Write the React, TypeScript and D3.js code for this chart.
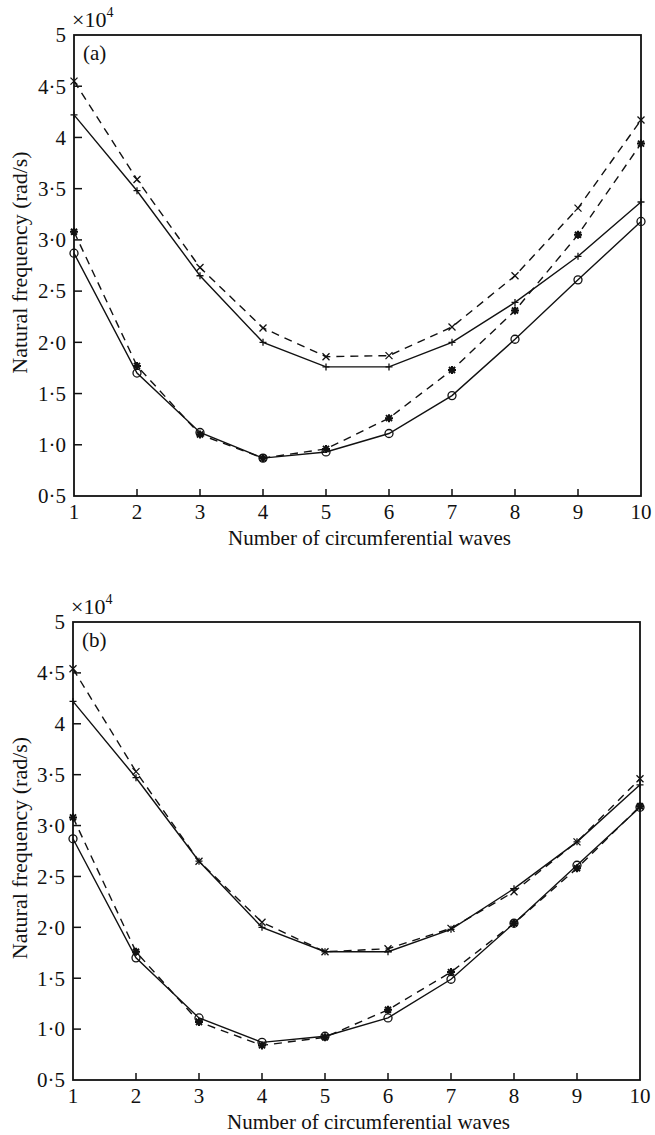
import React from 'react';
import * as d3 from 'd3';

// circumferential wave numbers (x axis)
const waves = [1, 2, 3, 4, 5, 6, 7, 8, 9, 10];

// natural frequency, in units of 10^4 rad/s
// panel (a)
const aUpperSolid = [4.22, 3.48, 2.65, 2.0, 1.76, 1.76, 2.0, 2.39, 2.84, 3.37];
const aUpperDashed = [4.55, 3.59, 2.73, 2.14, 1.86, 1.87, 2.15, 2.65, 3.31, 4.17];
const aLowerSolid = [2.87, 1.7, 1.12, 0.87, 0.93, 1.11, 1.48, 2.03, 2.61, 3.18];
const aLowerDashed = [3.08, 1.77, 1.1, 0.87, 0.96, 1.26, 1.73, 2.31, 3.05, 3.94];

// panel (b)
const bUpperSolid = [4.22, 3.47, 2.65, 2.0, 1.76, 1.76, 1.98, 2.38, 2.84, 3.4];
const bUpperDashed = [4.54, 3.53, 2.65, 2.05, 1.76, 1.79, 1.99, 2.35, 2.84, 3.46];
const bLowerSolid = [2.87, 1.7, 1.11, 0.87, 0.93, 1.11, 1.49, 2.04, 2.61, 3.18];
const bLowerDashed = [3.08, 1.76, 1.07, 0.84, 0.92, 1.19, 1.56, 2.04, 2.58, 3.19];

const yTicks = [0.5, 1, 1.5, 2, 2.5, 3, 3.5, 4, 4.5, 5];
const yTickLabels = ['0·5', '1·0', '1·5', '2·0', '2·5', '3·0', '3·5', '4', '4·5', '5'];
const xTickLabels = ['1', '2', '3', '4', '5', '6', '7', '8', '9', '10'];

const FONT = '"Liberation Serif", "Times New Roman", serif';

// marker path around 0,0
const markerPath = (type, s) => {
  if (type === 'plus') return `M${-s},0H${s}M0,${-s}V${s}`;
  if (type === 'cross') return `M${-s},${-s}L${s},${s}M${-s},${s}L${s},${-s}`;
  if (type === 'star') {
    const d = s * 0.75;
    return `M${-s},0H${s}M0,${-s}V${s}M${-d},${-d}L${d},${d}M${-d},${d}L${d},${-d}`;
  }
  return '';
};

const Panel = ({ left, right, top, bottom, tag, series }) => {
  const x = d3.scaleLinear().domain([1, 10]).range([left, right]);
  const y = d3.scaleLinear().domain([0.5, 5]).range([bottom, top]);

  const line = d3.line<number>()
    .x((d, i) => x(waves[i]))
    .y(d => y(d));

  return (
    <g fontFamily={FONT} fill="#111">
      {/* data lines */}
      {series.map((s, k) => (
        <path
          key={'l' + k}
          d={line(s.values) || ''}
          fill="none"
          stroke="#111"
          strokeWidth={1.4}
          strokeDasharray={s.dashed ? '8,6' : undefined}
        />
      ))}

      {/* markers */}
      {series.map((s, k) =>
        s.values.map((v, i) =>
          s.marker === 'circle' ? (
            <circle key={'m' + k + '-' + i} cx={x(waves[i])} cy={y(v)} r={4} fill="none" stroke="#111" strokeWidth={1.3} />
          ) : (
            <path
              key={'m' + k + '-' + i}
              transform={`translate(${x(waves[i])},${y(v)})`}
              d={markerPath(s.marker, s.marker === 'star' ? 4 : 3.5)}
              fill="none"
              stroke="#111"
              strokeWidth={s.marker === 'star' ? 2 : 1.3}
            />
          )
        )
      )}

      {/* frame */}
      <rect x={left} y={top} width={right - left} height={bottom - top} fill="none" stroke="#111" strokeWidth={1.8} />

      {/* y ticks (inward) */}
      {yTicks.map((t, i) => (
        <g key={'yt' + i}>
          {i > 0 && i < yTicks.length - 1 && (
            <line x1={left} x2={left + 8} y1={y(t)} y2={y(t)} stroke="#111" strokeWidth={1.5} />
          )}
          <text x={left - 8} y={y(t)} dy="0.35em" textAnchor="end" fontSize={21}>
            {yTickLabels[i]}
          </text>
        </g>
      ))}

      {/* x ticks (inward) */}
      {waves.map((w, i) => (
        <g key={'xt' + i}>
          {i > 0 && i < waves.length - 1 && (
            <line x1={x(w)} x2={x(w)} y1={bottom} y2={bottom - 7} stroke="#111" strokeWidth={1.5} />
          )}
          <text x={x(w)} y={bottom + 23} textAnchor="middle" fontSize={21}>
            {xTickLabels[i]}
          </text>
        </g>
      ))}

      {/* exponent */}
      <text x={left - 2} y={top - 8} fontSize={22}>
        ×10
        <tspan fontSize={14} dy={-10}>4</tspan>
      </text>

      {/* panel tag */}
      <text x={left + 9} y={top + 25} fontSize={21}>{tag}</text>

      {/* axis titles */}
      <text x={(left + right) / 2 + 12} y={bottom + 49} textAnchor="middle" fontSize={21}>
        Number of circumferential waves
      </text>
      <text
        transform={`translate(27,${(top + bottom) / 2 - 3}) rotate(-90)`}
        textAnchor="middle"
        fontSize={22}
      >
        Natural frequency (rad/s)
      </text>
    </g>
  );
};

export default function App() {
  const seriesA = [
    { values: aUpperSolid, dashed: false, marker: 'plus' },
    { values: aUpperDashed, dashed: true, marker: 'cross' },
    { values: aLowerSolid, dashed: false, marker: 'circle' },
    { values: aLowerDashed, dashed: true, marker: 'star' },
  ];
  const seriesB = [
    { values: bUpperSolid, dashed: false, marker: 'plus' },
    { values: bUpperDashed, dashed: true, marker: 'cross' },
    { values: bLowerSolid, dashed: false, marker: 'circle' },
    { values: bLowerDashed, dashed: true, marker: 'star' },
  ];

  return (
    <div style={{ position: 'absolute', left: 0, top: 0 }}>
      <svg width={655} height={1135} style={{ display: 'block', background: '#fff' }}>
        <Panel left={74} right={641} top={35} bottom={496} tag="(a)" series={seriesA} />
        <Panel left={73} right={640} top={622} bottom={1080} tag="(b)" series={seriesB} />
      </svg>
    </div>
  );
}
